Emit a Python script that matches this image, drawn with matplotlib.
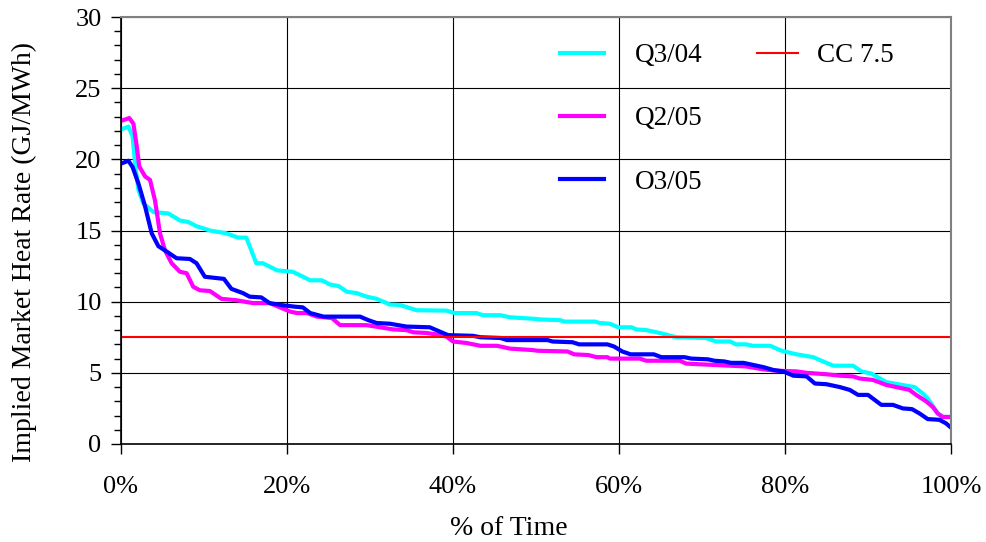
import matplotlib
matplotlib.use("Agg")
import matplotlib.pyplot as plt
from matplotlib.ticker import MultipleLocator, FixedLocator

plt.rcParams['font.family'] = ['Liberation Serif', 'DejaVu Serif']

# ---- data ----
q304_x = [0, 0.9, 1.4, 1.7, 2.1, 2.7, 3.9, 5.7, 7.1, 8.1, 9.1, 10.7, 12.7, 14.1, 15.1, 16.3, 17.1, 18.8,
          20.7, 22.8, 24.2, 25.2, 26.2, 27.2, 28.4, 29.6, 30.8, 32.4, 33.6, 35.6, 39.2, 40.2, 42.8, 43.6,
          45.7, 46.9, 49.7, 50.5, 52.9, 53.4, 57.1, 57.7, 58.9, 59.9, 61.5, 62.1, 63.3, 64.9, 66.9, 70.5,
          71.7, 73.4, 74.1, 75.3, 76.1, 78.2, 79.6, 81.4, 83.4, 84.6, 85.8, 88.2, 89.2, 90.4, 92.2, 94.6,
          95.6, 96.6, 97.2, 97.9, 98.4, 99.0, 100]
q304_y = [22.1, 22.3, 21.6, 19.7, 17.85, 16.9, 16.3, 16.2, 15.7, 15.6, 15.3, 15.0, 14.8, 14.5, 14.5, 12.7, 12.7, 12.2,
          12.1, 11.5, 11.5, 11.2, 11.1, 10.7, 10.6, 10.35, 10.2, 9.8, 9.77, 9.4, 9.37, 9.2, 9.2, 9.05,
          9.05, 8.9, 8.8, 8.75, 8.7, 8.6, 8.6, 8.5, 8.45, 8.2, 8.2, 8.05, 8.0, 7.8, 7.5, 7.45,
          7.2, 7.2, 7.0, 7.0, 6.9, 6.9, 6.55, 6.3, 6.1, 5.8, 5.5, 5.5, 5.1, 4.95, 4.35, 4.1,
          4.0, 3.55, 3.2, 2.6, 2.15, 1.9, 1.9]

q205_x = [0, 1.0, 1.5, 1.9, 2.2, 2.9, 3.5, 4.1, 4.7, 5.3, 6.1, 7.1, 7.9, 8.7, 9.5, 10.7, 12.1, 13.9, 15.9, 17.9,
          20.4, 21.2, 22.4, 23.6, 25.4, 26.4, 29.6, 31.2, 32.8, 34.4, 35.2, 36.8, 38.0, 39.2, 40.0, 41.6,
          43.3, 45.3, 46.9, 49.6, 50.2, 53.8, 54.6, 56.3, 57.3, 58.6, 58.9, 62.5, 63.3, 67.3, 68.1, 69.8,
          73.4, 75.3, 77.3, 78.9, 81.4, 82.6, 85.0, 86.6, 88.2, 89.0, 90.6, 92.2, 93.4, 95.0, 95.8, 97.0,
          97.8, 98.4, 99.0, 100]
q205_y = [22.7, 22.9, 22.5, 20.9, 19.5, 18.8, 18.55, 17.1, 14.8, 13.6, 12.7, 12.1, 12.0, 11.05, 10.8, 10.75, 10.2, 10.1, 9.9, 9.9,
          9.3, 9.2, 9.2, 8.95, 8.85, 8.35, 8.35, 8.2, 8.05, 8.0, 7.85, 7.8, 7.7, 7.55, 7.2, 7.1,
          6.9, 6.9, 6.7, 6.6, 6.55, 6.5, 6.3, 6.25, 6.1, 6.1, 6.0, 6.0, 5.85, 5.85, 5.65, 5.6,
          5.5, 5.45, 5.25, 5.15, 5.1, 5.0, 4.9, 4.8, 4.75, 4.6, 4.5, 4.15, 4.0, 3.8, 3.45, 3.0,
          2.6, 2.15, 1.9, 1.9]

q305_x = [0, 0.9, 1.4, 2.1, 2.9, 3.7, 4.5, 5.3, 6.7, 8.3, 9.1, 10.1, 12.4, 13.3, 14.7, 15.5, 16.9, 17.9, 19.5,
          20.9, 21.9, 22.8, 24.4, 28.8, 29.8, 30.8, 32.4, 34.4, 37.2, 38.4, 39.4, 42.4, 43.3, 45.7, 46.5,
          51.4, 52.0, 54.4, 55.2, 58.6, 59.4, 60.4, 61.4, 64.2, 65.1, 67.9, 68.7, 70.7, 71.5, 72.7, 73.5,
          75.0, 76.2, 77.4, 78.6, 79.8, 81.0, 82.6, 83.6, 85.0, 86.6, 87.8, 88.8, 90.0, 91.6, 93.0, 94.2,
          95.3, 96.2, 97.2, 98.6, 99.4, 100]
q305_y = [19.7, 19.9, 19.45, 18.3, 16.7, 14.8, 13.9, 13.6, 13.05, 13.0, 12.7, 11.75, 11.6, 10.9, 10.6, 10.35, 10.3, 9.9, 9.75,
          9.65, 9.6, 9.2, 8.95, 8.95, 8.7, 8.5, 8.45, 8.25, 8.2, 7.9, 7.65, 7.6, 7.5, 7.45, 7.3,
          7.3, 7.2, 7.15, 7.0, 7.0, 6.85, 6.5, 6.3, 6.3, 6.1, 6.1, 6.0, 5.95, 5.85, 5.8, 5.7,
          5.7, 5.55, 5.4, 5.2, 5.1, 4.8, 4.75, 4.25, 4.2, 4.0, 3.8, 3.45, 3.45, 2.75, 2.75, 2.5,
          2.45, 2.15, 1.75, 1.7, 1.45, 1.15]

cc_x = [0, 100]
cc_y = [7.5, 7.5]

series_labels = ["Q3/04", "Q2/05", "O3/05"]
x_ticks = [0, 20, 40, 60, 80, 100]
x_tick_labels = ["0%", "20%", "40%", "60%", "80%", "100%"]
y_ticks = [0, 5, 10, 15, 20, 25, 30]

# ---- figure ----
W, H = 987, 542
fig = plt.figure(figsize=(W / 100, H / 100), dpi=100)
ax = fig.add_axes([121 / W, 1 - 444 / H, (951 - 121) / W, (444 - 17) / H])

lw = 3.0
l1, = ax.plot(q304_x, q304_y, color='#00FFFF', lw=lw, label=series_labels[0], solid_joinstyle='round')
l2, = ax.plot(q205_x, q205_y, color='#FF00FF', lw=lw, label=series_labels[1], solid_joinstyle='round')
l3, = ax.plot(q305_x, q305_y, color='#0000FF', lw=lw, label=series_labels[2], solid_joinstyle='round')
l4, = ax.plot(cc_x, cc_y, color='#FF0000', lw=1.5, label="CC 7.5")

ax.set_xlim(0, 100)
ax.set_ylim(0, 30)
ax.xaxis.set_major_locator(FixedLocator(x_ticks))
ax.set_xticklabels(x_tick_labels)
ax.yaxis.set_major_locator(FixedLocator(y_ticks))
ax.yaxis.set_minor_locator(MultipleLocator(1))

ax.grid(True, which='major', color='#000000', lw=0.8)
ax.set_axisbelow(True)

ax.tick_params(axis='both', which='major', labelsize=19, direction='out', length=7, width=1, color='black', pad=7)
ax.tick_params(axis='y', which='minor', direction='out', length=5, width=1, color='black')
ax.tick_params(axis='x', which='major', pad=16)

for s in ['left', 'bottom']:
    ax.spines[s].set_color('black')
    ax.spines[s].set_linewidth(1.2)
for s in ['top', 'right']:
    ax.spines[s].set_color('#808080')
    ax.spines[s].set_linewidth(1.5)

ax.set_xlabel("% of Time", fontsize=20)
ax.xaxis.set_label_coords((509 - 121) / (951 - 121), -(516 - 444) / (444 - 17))
ax.set_ylabel("Implied Market Heat Rate (GJ/MWh)", fontsize=20)
ax.yaxis.set_label_coords(-(121 - 37) / (951 - 121), (444 - 252) / (444 - 17))

leg1 = fig.legend(handles=[l1, l2, l3], loc='upper left', bbox_to_anchor=(560 / W, 1 - 43 / H),
                  frameon=False, fontsize=19.5, handlelength=1.63, handletextpad=1.15,
                  labelspacing=1.42, borderpad=0, borderaxespad=0)
leg2 = fig.legend(handles=[l4], loc='upper left', bbox_to_anchor=(757 / W, 1 - 43 / H),
                  frameon=False, fontsize=19.5, handlelength=1.52, handletextpad=0.7,
                  borderpad=0, borderaxespad=0)

fig.savefig("out.png", dpi=100)
